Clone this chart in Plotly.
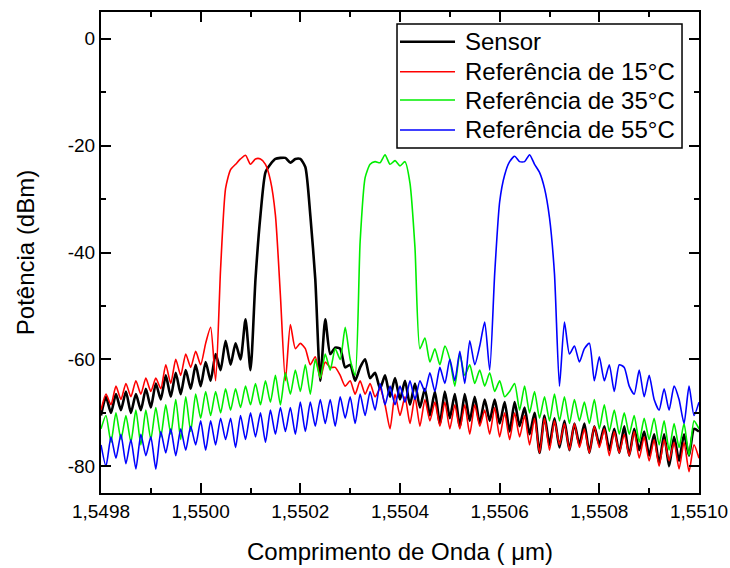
import numpy as np
import plotly.graph_objects as go

# Sampling grid (micrometres), 0.00001 um step from 1.5498 to 1.5510
wavelength_um = np.round(1.5498 + 0.00001 * np.arange(121), 5)

sensor_dbm = [
    -70.5, -67, -70, -66.5, -69.5, -66, -70, -66.5, -69.5, -65.5,
    -69, -64.5, -67.5, -63, -67, -62.5, -66.5, -62, -65.5, -61,
    -65, -60.5, -64, -59, -62, -56.5, -61, -57, -60, -52.5,
    -62, -45, -33, -25, -23.5, -22.5, -22.3, -22.3, -23.2, -22.5,
    -22.5, -24, -33, -45, -64, -52.5, -59, -57.8, -58, -61.5,
    -61, -64, -61.5, -60, -63.5, -62.5, -65.5, -63, -67, -63.5,
    -67.5, -64, -68.5, -64.5, -69, -65.5, -70.5, -66, -72, -66,
    -71, -66.5, -72.5, -66.5, -71.5, -67, -72, -67.5, -71.5, -67.5,
    -72, -68, -73.5, -68, -72.5, -69, -74, -70, -77.5, -70.5,
    -76, -71, -76.5, -71.5, -77, -72, -76, -72, -77.5, -72.5,
    -76, -72.5, -77, -73, -77.5, -72.5, -78, -73, -77, -73.5,
    -78, -74, -79.5, -74, -80, -74.5, -79, -74, -78, -73,
    -73.5,
]

ref15_dbm = [
    -69.5, -66.5, -68.5, -65, -67.5, -64.5, -67, -64, -66.5, -63.5,
    -66, -63.5, -65.5, -61, -64.5, -60, -63, -59, -61.5, -58.5,
    -61, -57, -54, -64, -43, -28, -24.5, -23.5, -22.5, -21.8,
    -23.5, -22.5, -22.5, -23.5, -26.5, -33, -48, -64, -53.5, -58,
    -57, -58, -61, -59.5, -63.5, -60.5, -61.5, -61.5, -63, -65,
    -64, -66.5, -64, -66.5, -64.5, -67, -65.5, -68.5, -73, -66.5,
    -70.5, -67, -72, -67, -72.5, -67.5, -71.5, -68, -72.5, -68,
    -73, -68.5, -73, -68.5, -74, -68.5, -72.5, -69.5, -74, -69,
    -74.5, -70, -75, -70, -74.5, -70.5, -76, -71, -77.5, -71,
    -77, -71.5, -76, -72, -77, -72, -76.5, -73, -77.5, -72.5,
    -76.5, -73, -78, -73.5, -77.5, -74, -78, -73.5, -78.5, -74.5,
    -79, -75, -80, -75, -79, -75.5, -80.5, -75.5, -81, -76,
    -78.5,
]

ref35_dbm = [
    -73, -70.5, -75.5, -70, -75, -70.5, -75.5, -69.5, -76, -69.5,
    -75, -69, -74.5, -68.5, -74, -67.5, -75, -67, -73.5, -66.5,
    -71, -66, -70.5, -66, -70, -65.5, -69.5, -65.5, -69, -65,
    -68.5, -64.5, -68.5, -64, -68, -63, -68.5, -62.5, -66.5, -62,
    -66, -61, -66.5, -60, -63.5, -59, -62, -58, -60, -54,
    -60, -63, -38, -26, -23.5, -23, -23.2, -21.7, -23.5, -22.8,
    -23.8, -23, -27, -39, -58, -56, -60.5, -58, -61, -57.5,
    -60, -65, -59, -63, -61, -64.5, -62, -65, -62.5, -66,
    -64, -67, -66, -64.5, -69.5, -65, -70, -66, -71, -67,
    -71.5, -66.5, -71.5, -67, -72, -67.5, -71.5, -68, -72, -67.5,
    -73, -68.5, -73.5, -69.5, -74, -70, -74, -70.5, -75.5, -71,
    -75, -71, -76, -71.5, -77, -72, -76.5, -72, -78, -71.5,
    -73,
]

ref55_dbm = [
    -76, -80, -74.5, -78.5, -74, -79.5, -75, -80.5, -74, -78,
    -74.5, -80.5, -73.5, -77.5, -73, -78, -73, -77, -72.5, -76,
    -71.5, -77, -71.5, -76, -71, -75, -71, -76.5, -70.5, -75,
    -70, -74.5, -70, -75.5, -69.5, -74, -69, -73.5, -69, -74,
    -68, -73.5, -68, -72.5, -67.5, -72, -67.5, -72.5, -67, -71,
    -67, -72, -66.5, -70.5, -66, -69.5, -64.5, -68.5, -65, -68.5,
    -65, -68, -64, -67.5, -64, -66, -62.5, -66, -61.5, -64.5,
    -60, -64, -58.5, -64.5, -56.5, -61, -57.5, -53, -62, -44,
    -30.5, -25.5, -23, -22, -23, -23, -21.7, -23.5, -25, -28,
    -33.5, -44, -65, -53, -59, -57.5, -60.5, -58, -57, -64,
    -59.5, -64, -61, -66, -61, -61.5, -65, -66.5, -62, -67,
    -63, -67.5, -69.5, -65.5, -69.5, -65, -67.5, -72, -65, -70.5,
    -68,
]

series_names = ["Sensor", "Referência de 15°C", "Referência de 35°C", "Referência de 55°C"]
series_values = [sensor_dbm, ref15_dbm, ref35_dbm, ref55_dbm]
series_colors = ["#000000", "#ff0000", "#00ee00", "#0000ff"]
series_widths = [2.6, 1.6, 1.6, 1.6]

x_tick_vals = [1.5498, 1.5500, 1.5502, 1.5504, 1.5506, 1.5508, 1.5510]
x_tick_text = ["1,5498", "1,5500", "1,5502", "1,5504", "1,5506", "1,5508", "1,5510"]
x_minor_vals = [1.5499, 1.5501, 1.5503, 1.5505, 1.5507, 1.5509]
y_tick_vals = [0, -20, -40, -60, -80]
y_tick_text = ["0", "-20", "-40", "-60", "-80"]
y_minor_vals = [-10, -30, -50, -70]

FONT = "Arial, 'Liberation Sans', sans-serif"

fig = go.Figure()
for name, vals, col, w in zip(series_names, series_values, series_colors, series_widths):
    fig.add_trace(go.Scatter(
        x=wavelength_um, y=vals, mode="lines", name=name, showlegend=False,
        line=dict(color=col, width=w, shape="spline", smoothing=0.6),
    ))

axis_common = dict(
    showline=True, linecolor="black", linewidth=2, mirror="ticks",
    ticks="inside", ticklen=10, tickwidth=2, tickcolor="black",
    showgrid=False, zeroline=False, automargin=False,
    tickfont=dict(family=FONT, size=19, color="black"),
)

fig.update_xaxes(
    range=[1.5498, 1.5510], tickmode="array", tickvals=x_tick_vals, ticktext=x_tick_text,
    minor=dict(tickvals=x_minor_vals, ticks="inside", ticklen=5, tickwidth=2, tickcolor="black"),
    title=dict(text="Comprimento de Onda ( μm)", font=dict(family=FONT, size=24, color="black"),
               standoff=22),
    **axis_common,
)
fig.update_yaxes(
    range=[-85, 5], tickmode="array", tickvals=y_tick_vals, ticktext=y_tick_text,
    minor=dict(tickvals=y_minor_vals, ticks="inside", ticklen=5, tickwidth=2, tickcolor="black"),
    title=dict(text="Potência (dBm)", font=dict(family=FONT, size=24, color="black"),
               standoff=26),
    **axis_common,
)

# Legend drawn as a framed box with line samples and text (paper coordinates)
legend_box = dict(x0=0.495, x1=0.9716, y0=0.7173, y1=0.975)
legend_rows_y = [0.9383, 0.8759, 0.8170, 0.7547]
fig.add_shape(type="rect", xref="paper", yref="paper", **legend_box,
              line=dict(color="black", width=1.5), fillcolor="white", layer="above")
for name, col, w, yy in zip(series_names, series_colors, series_widths, legend_rows_y):
    fig.add_shape(type="line", xref="paper", yref="paper", x0=0.5, x1=0.592, y0=yy, y1=yy,
                  line=dict(color=col, width=w), layer="above")
    fig.add_annotation(xref="paper", yref="paper", x=0.6054, y=yy, text=name,
                       showarrow=False, xanchor="left", yanchor="middle",
                       font=dict(family=FONT, size=24, color="black"))

fig.update_layout(
    width=730, height=568,
    margin=dict(l=101, r=31, t=12, b=75),
    paper_bgcolor="white", plot_bgcolor="white",
    font=dict(family=FONT, color="black"),
    showlegend=False,
)

fig.write_html("out.html")
